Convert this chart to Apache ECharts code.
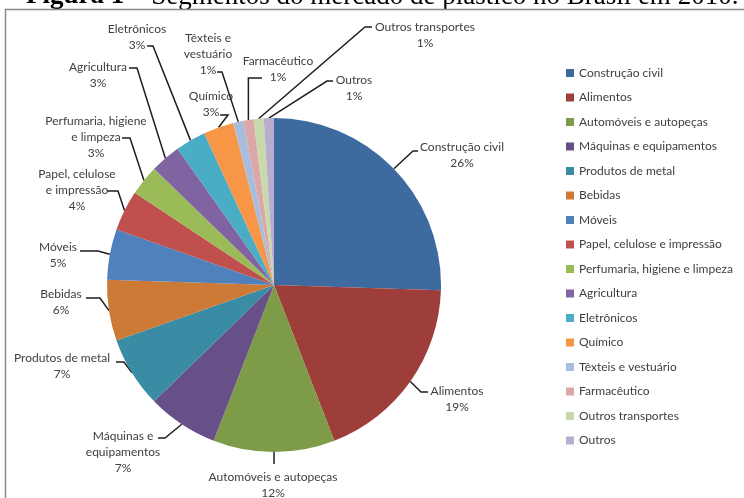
<!DOCTYPE html>
<html>
<head>
<meta charset="utf-8">
<script src="https://cdn.jsdelivr.net/npm/echarts@6/dist/echarts.min.js"></script>
<style>
  html, body { margin: 0; padding: 0; background: #ffffff; }
  #chart { width: 744px; height: 498px; }
</style>
</head>
<body>
<div id="chart"></div>
<script>
// Segmentos do mercado de plástico no Brasil em 2010 (%)
const segmentNames = [
  'Construção civil', 'Alimentos', 'Automóveis e autopeças', 'Máquinas e equipamentos',
  'Produtos de metal', 'Bebidas', 'Móveis', 'Papel, celulose e impressão',
  'Perfumaria, higiene e limpeza', 'Agricultura', 'Eletrônicos', 'Químico',
  'Têxteis e vestuário', 'Farmacêutico', 'Outros transportes', 'Outros'
];
const segmentShares = [26, 19, 12, 7, 7, 6, 5, 4, 3, 3, 3, 3, 1, 1, 1, 1];

// Wrapped names used by the slice labels
const labelTexts = [
  'Construção civil', 'Alimentos', 'Automóveis e autopeças', 'Máquinas e\nequipamentos',
  'Produtos de metal', 'Bebidas', 'Móveis', 'Papel, celulose\ne impressão',
  'Perfumaria, higiene\ne limpeza', 'Agricultura', 'Eletrônicos', 'Químico',
  'Têxteis e\nvestuário', 'Farmacêutico', 'Outros transportes', 'Outros'
];

const sliceColors = [
  '#3d6a9f', '#9e3e3b', '#7e9b48', '#674f88', '#3a8ca4', '#cd7a37',
  '#4f81bd', '#c0504d', '#9bbb59', '#8064a2', '#4bacc6', '#f79646',
  '#a8bcdc', '#dba8a7', '#c8daab', '#b9adcd'
];

// Label block centres and leader-line ends: [x, y, elbow offset]
// (a null elbow offset means the line rises vertically from the rim first)
const labelSpots = [
  [462, 155], [457, 399], [273, 485], [123, 452], [62, 366], [61, 302], [58, 255], [77, 190],
  [96, 137], [98, 75], [137, 37], [211, 104], [208, 54], [278, 69], [425, 35], [354, 88]
];
const leaderEnds = [
  [418, 151, -5], [428, 392, -7], [274, 464, null], [158, 438, 7], [116, 362, 8], [86, 298, 14],
  [80, 251, 18], [107, 191, 11], [122, 138, 8], [129, 68, 8], [147, 46, 6], [220, 115, 8],
  [217, 72, 5], [262, 78, null], [372, 27, -7], [333, 81, -6]
];

const chart = echarts.init(document.getElementById('chart'), null, { renderer: 'canvas' });

const labelFont = 'Lato, "Noto Sans", sans-serif';
const serifFont = '"Liberation Serif", "DejaVu Serif", serif';

chart.setOption({
  animation: false,
  backgroundColor: '#ffffff',
  color: sliceColors,
  graphic: [
    {
      type: 'text',
      left: 26,
      top: -17,
      style: {
        text: '{b|Figura 1} – Segmentos do mercado de plástico no Brasil em 2010.',
        font: '27px ' + serifFont,
        fill: '#000000',
        rich: { b: { fontWeight: 'bold', fontSize: 27, fontFamily: serifFont } }
      }
    },
    {
      type: 'rect',
      shape: { x: 5.5, y: 9.5, width: 800, height: 600 },
      style: { fill: 'none', stroke: '#8a8a8a', lineWidth: 1.5 },
      silent: true
    }
  ],
  legend: {
    orient: 'vertical',
    left: 566,
    top: 66,
    padding: 0,
    itemWidth: 8,
    itemHeight: 8,
    itemGap: 10.5,
    icon: 'rect',
    textStyle: { fontFamily: labelFont, fontSize: 12, color: '#404040', lineHeight: 14 },
    data: segmentNames
  },
  series: [
    {
      type: 'pie',
      center: [274, 285],
      radius: 167,
      startAngle: 90,
      clockwise: true,
      avoidLabelOverlap: false,
      itemStyle: { borderWidth: 0 },
      label: {
        show: true,
        position: 'outside',
        fontFamily: labelFont,
        fontSize: 12,
        lineHeight: 16,
        color: '#404040',
        align: 'center',
        formatter: p => labelTexts[p.dataIndex] + '\n' + p.value + '%'
      },
      labelLine: {
        show: true,
        length: 10,
        length2: 10,
        lineStyle: { color: '#1e1e1e', width: 1.5 }
      },
      labelLayout: params => {
        const i = params.dataIndex;
        const spot = labelSpots[i];
        const end = leaderEnds[i];
        const start = params.labelLinePoints[0];
        const elbow = end[2] === null ? [start[0], end[1]] : [end[0] + end[2], end[1]];
        return {
          x: spot[0],
          y: spot[1],
          align: 'center',
          verticalAlign: 'middle',
          labelLinePoints: [start, elbow, [end[0], end[1]]]
        };
      },
      emphasis: { disabled: true },
      data: segmentNames.map((name, i) => ({ name: name, value: segmentShares[i] }))
    }
  ]
});
</script>
</body>
</html>
